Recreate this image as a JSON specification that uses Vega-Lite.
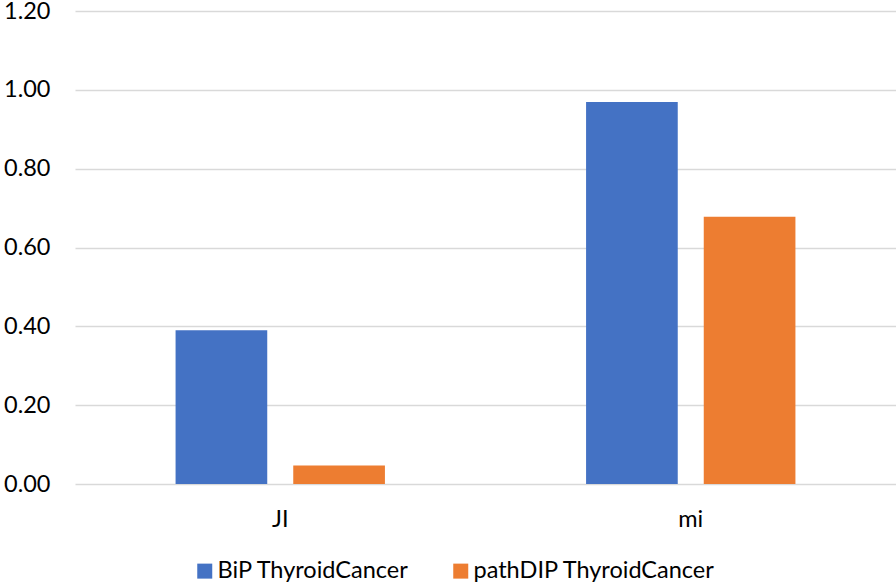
{
  "$schema": "https://vega.github.io/schema/vega-lite/v6.json",
  "autosize": {"type": "none"},
  "width": 821,
  "height": 473,
  "padding": {"left": 75, "top": 11, "right": 0, "bottom": 102},
  "background": "white",
  "config": {
    "view": {"stroke": null},
    "font": "Lato",
    "axis": {"labelFont": "Lato", "labelFontSize": 23.5, "labelColor": "#000000"},
    "legend": {"labelFont": "Lato", "labelFontSize": 23.5, "labelColor": "#000000", "labelLimit": 0}
  },
  "data": {
    "values": [
      {"metric": "JI", "series": "BiP ThyroidCancer", "value": 0.39},
      {"metric": "JI", "series": "pathDIP ThyroidCancer", "value": 0.047},
      {"metric": "mi", "series": "BiP ThyroidCancer", "value": 0.969},
      {"metric": "mi", "series": "pathDIP ThyroidCancer", "value": 0.678}
    ]
  },
  "mark": {"type": "bar"},
  "encoding": {
    "x": {
      "field": "metric",
      "type": "nominal",
      "sort": ["JI", "mi"],
      "scale": {"paddingInner": 0.49, "paddingOuter": 0.245},
      "axis": {
        "title": null,
        "labelAngle": 0,
        "domain": false,
        "ticks": false,
        "labelPadding": 23
      }
    },
    "xOffset": {
      "field": "series",
      "type": "nominal",
      "scale": {"paddingInner": 0.221, "paddingOuter": 0}
    },
    "y": {
      "field": "value",
      "type": "quantitative",
      "scale": {"domain": [0, 1.2], "nice": false},
      "axis": {
        "title": null,
        "values": [0, 0.2, 0.4, 0.6, 0.8, 1.0, 1.2],
        "format": ".2f",
        "domain": false,
        "ticks": false,
        "labelPadding": 25,
        "gridColor": "#d9d9d9",
        "gridWidth": 1.5
      }
    },
    "color": {
      "field": "series",
      "type": "nominal",
      "scale": {
        "domain": ["BiP ThyroidCancer", "pathDIP ThyroidCancer"],
        "range": ["#4472C4", "#ED7D31"]
      },
      "legend": {
        "title": null,
        "orient": "none",
        "direction": "horizontal",
        "legendX": 118,
        "legendY": 548,
        "symbolType": "square",
        "symbolSize": 225,
        "symbolStrokeWidth": 0,
        "labelOffset": 1,
        "columnPadding": 39
      }
    }
  }
}
